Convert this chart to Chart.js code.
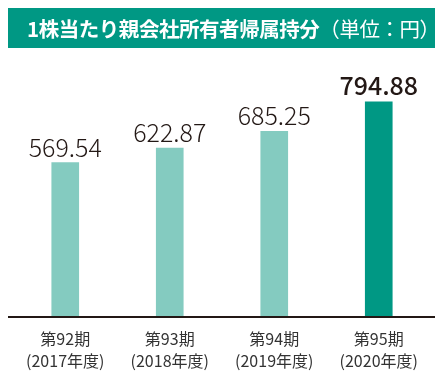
<!DOCTYPE html>
<html><head><meta charset="utf-8">
<script src="https://cdn.jsdelivr.net/npm/chart.js@4/dist/chart.umd.min.js"></script>
<style>
html,body{margin:0;padding:0;background:#fff;}
#wrap{position:relative;width:441px;height:374px;}
#title{position:absolute;left:8px;top:8px;width:427px;height:40px;background:#009884;color:#fff;
 font-family:"Noto Sans CJK JP","Noto Sans",sans-serif;font-size:20.5px;line-height:40px;white-space:nowrap;box-sizing:border-box;padding-left:19px;letter-spacing:-0.45px;}
#title b{font-weight:700;}
#title span{font-weight:400;}
canvas{position:absolute;left:0;top:0;}
</style></head>
<body><div id="wrap"><canvas id="c" width="441" height="374"></canvas>
<div id="title"><b>1株当たり親会社所有者帰属持分</b><span>（単位：円）</span></div></div>
<script>
const periods = ['第92期','第93期','第94期','第95期'];
const fiscalYears = ['(2017年度)','(2018年度)','(2019年度)','(2020年度)'];
const values = [569.54, 622.87, 685.25, 794.88];
const barColors = ['#84CBC0','#84CBC0','#84CBC0','#009884'];

const FONT = '"Noto Sans CJK JP","Noto Sans",sans-serif';

const valueLabels = {
  id:'valueLabels',
  afterDatasetsDraw(chart){
    const ctx = chart.ctx;
    const meta = chart.getDatasetMeta(0);
    meta.data.forEach((bar,i)=>{
      const last = i === values.length-1;
      ctx.save();
      ctx.fillStyle = '#231815';
      ctx.textAlign = 'center';
      ctx.textBaseline = 'bottom';
      ctx.font = (last ? '500 25px ' : '300 25px ') + FONT;
      ctx.fillText(values[i].toFixed(2), bar.x, bar.y - (last ? 4 : 3));
      ctx.restore();
    });
  }
};
const axisLine = {
  id:'axisLine',
  afterDatasetsDraw(chart){
    const ctx = chart.ctx;
    const y = chart.chartArea.bottom + 1;
    ctx.save();
    ctx.strokeStyle = '#231815';
    ctx.lineWidth = 2;
    ctx.beginPath();
    ctx.moveTo(8, y);
    ctx.lineTo(435, y);
    ctx.stroke();
    ctx.restore();
  }
};

new Chart(document.getElementById('c'), {
  type:'bar',
  data:{
    labels: periods.map((p,i)=>[p, fiscalYears[i]]),
    datasets:[{data:values, backgroundColor:barColors, barThickness:27, borderWidth:0}]
  },
  options:{
    responsive:false,
    animation:false,
    layout:{padding:{left:13, right:10, top:73, bottom:-10}},
    plugins:{legend:{display:false}, tooltip:{enabled:false}, title:{display:false}},
    scales:{
      y:{display:false, min:0, max:902},
      x:{
        grid:{display:false, drawTicks:false},
        border:{display:false},
        ticks:{color:'#333', padding:12, font:{family:FONT, size:16, lineHeight:1.375}, maxRotation:0}
      }
    }
  },
  plugins:[valueLabels, axisLine]
});
</script></body></html>
